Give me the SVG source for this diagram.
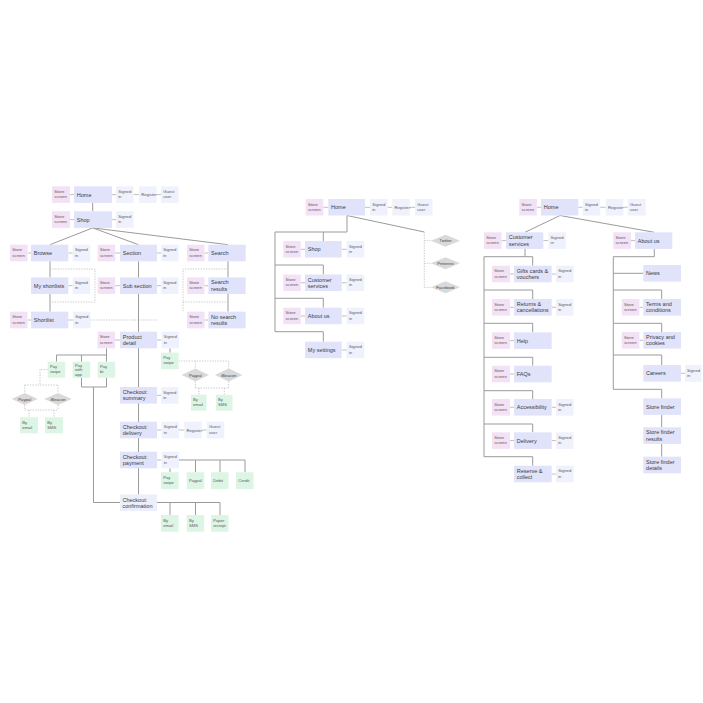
<svg xmlns="http://www.w3.org/2000/svg" width="703" height="703" viewBox="0 0 703 703">
<style>
text{font-family:"Liberation Sans",Arial,sans-serif}
.mn{fill:#e1e3fa}
.ss{fill:#f3e1f6}
.si{fill:#eff1fc}
.gr{fill:#dcf5e5}
.cf{fill:#eceefc}
.dm{fill:#d9d9d9}
.t{font-size:5.5px;fill:#3a3a3a}
.m{font-size:4.2px;fill:#5a5a5a}
.dt{font-size:4.2px;fill:#444;text-anchor:middle}
.c{stroke:#9b9b9b;stroke-width:1;fill:none}
.k{stroke:#b0b0b0;stroke-width:0.8;fill:none}
.d{stroke:#bdbdbd;stroke-width:0.8;fill:none;stroke-dasharray:1.3 1.3}
</style>
<rect width="703" height="703" fill="#fff"/>
<g id="connectors">
<!-- left -->
<path class="k" d="M70 194.6H74M112 194.6H116M133.5 194.6H139M156.5 194.6H161"/>
<path class="c" d="M92.7 202.9V211.3"/>
<path class="k" d="M70 219.6H74M112 219.6H116"/>
<path class="c" d="M92.7 227.9L50 244.7M92.7 227.9L138.5 244.7M92.7 227.9L228 244.7"/>
<path class="k" d="M27.5 253H31M68.3 253H72.7M115.2 253H120M157 253H161M204.5 253H208.3"/>
<path class="c" d="M50 261.3V277.4M50 294V311.7M228 261.3V277.4M228 294V311.7M138.5 261.3V494.5"/>
<path class="k" d="M68.3 285.7H72.7M115.2 285.7H120M157 285.7H161M204.5 285.7H208.3"/>
<path class="k" d="M27.5 320H31M68.3 320H73M204.5 320H208.3"/>
<path class="d" d="M50 269H95V302H50"/>
<path class="d" d="M228 269H183V311M183 302H228"/>
<path class="d" d="M90.5 320H158"/>
<path class="k" d="M115 340H120M157 340H161.5"/>
<path class="c" d="M170 348.3V352.7"/>
<path class="c" d="M106.5 348.3V361.7M56.5 355H106.5M56.5 355V361.7M81.5 355V361.7"/>
<path class="c" d="M81.5 377.7V387H106.5V377.7M93.5 387V502.5H120"/>
<path class="d" d="M178.5 361H228.7V368.5M195.3 361V368.5"/>
<path class="d" d="M195.3 381.5V388M228.7 381.5V388M195.3 388H228.7M199 388V394.7M224.3 388V394.7"/>
<path class="d" d="M47.7 369.5H40V385M24.7 385H58M24.7 385V393M58 385V393"/>
<path class="d" d="M24.7 405V410M58 405V410M24.7 410H58M29 410V417.3M54 410V417.3"/>
<path class="k" d="M157 395.3H161"/>
<path class="k" d="M157 430H161.5M179 430H184.3M201.8 430H206.7"/>
<path class="k" d="M157 460H161.5"/>
<path class="c" d="M170 468.3V472.3M179 460H245M195.5 460V472.3M220 460V472.3M245 460V472.3"/>
<path class="c" d="M157 502.5H220M170 502.5V515M195.5 502.5V515M220 502.5V515"/>
<!-- middle -->
<path class="k" d="M323.3 207.3H328.3M365 207.3H370M387.5 207.3H392.3M409.8 207.3H415"/>
<path class="c" d="M347 215.5V232H275V331.7M347 215.5L424.3 232"/>
<path class="c" d="M323.3 232V241M275 265H323.3V274.5M275 298.3H323.3V307.7M275 331.7H323.3V341.7"/>
<path class="k" d="M300.8 249.3H305M341.7 249.3H346.7M300.8 282.8H305M341.7 282.8H346.7M300.8 316H305M341.7 316H346.7M341.7 350H346.7"/>
<path class="d" d="M424.3 232V287.3M424.3 240.7H431M424.3 263.3H431M424.3 287.3H431"/>
<!-- right -->
<path class="k" d="M536.8 207.3H541M578.3 207.3H582.7M600.2 207.3H605.7M623.2 207.3H627.7"/>
<path class="c" d="M560 215.5L525 232.3M560 215.5L654.3 232.3"/>
<path class="k" d="M501.5 240.6H506M543.3 240.6H548.3M631 240.6H635"/>
<path class="c" d="M525 248.9V256.7M484 256.7H532.7V265.7M484 256.7V456.7"/>
<path class="c" d="M484 290H532.7V299M484 323.3H532.7V332.3M484 357.3H532.7V365.7M484 390.7H532.7V399M484 424H532.7V432.3M484 456.7H532.7V465.7"/>
<path class="k" d="M510 274H514M551.7 274H556M510 307.3H514M551.7 307.3H556M510 340.6H514M510 374H514M510 407.3H514M551.7 407.3H556M510 440.6H514M551.7 440.6H556M551.7 474H556"/>
<path class="c" d="M654.3 248.9V256.7H613.3V389.3M613.3 273.3H643.3M613.3 290H661.7V299M613.3 323.3H661.7V332M613.3 355H661.7V365M613.3 389.3H661.7V398.3M661.7 415V427.3M661.7 444V456.7"/>
<path class="k" d="M639.4 307.3H643.3M639.4 340.3H643.3M681 373.3H685"/>
</g>

<!-- LEFT: Home / Shop -->
<g id="l-home-ss"><rect class="ss" x="52" y="186.3" width="18" height="16.6"/><text class="m" x="54.3" y="192.9">Store<tspan x="54.3" dy="5.2">screen</tspan></text></g>
<g id="l-home"><rect class="mn" x="74" y="186.3" width="38" height="16.6"/><text class="t" x="76.8" y="196.6">Home</text></g>
<g id="l-home-si"><rect class="si" x="116" y="186.3" width="17.5" height="16.6"/><text class="m" x="118.2" y="192.9">Signed<tspan x="118.2" dy="5.2">in</tspan></text></g>
<g id="l-home-reg"><rect class="si" x="139" y="186.3" width="17.5" height="16.6"/><text class="m" x="141.2" y="196.1">Register</text></g>
<g id="l-home-gu"><rect class="si" x="161" y="186.3" width="17.5" height="16.6"/><text class="m" x="163.2" y="192.9">Guest<tspan x="163.2" dy="5.2">user</tspan></text></g>
<g id="l-shop-ss"><rect class="ss" x="52" y="211.3" width="18" height="16.6"/><text class="m" x="54.3" y="217.9">Store<tspan x="54.3" dy="5.2">screen</tspan></text></g>
<g id="l-shop"><rect class="mn" x="74" y="211.3" width="38" height="16.6"/><text class="t" x="76.8" y="221.6">Shop</text></g>
<g id="l-shop-si"><rect class="si" x="116" y="211.3" width="17.5" height="16.6"/><text class="m" x="118.2" y="217.9">Signed<tspan x="118.2" dy="5.2">in</tspan></text></g>

<!-- LEFT: row Browse / Section / Search -->
<g id="l-browse-ss"><rect class="ss" x="10" y="244.7" width="17.5" height="16.6"/><text class="m" x="12.2" y="251.3">Store<tspan x="12.2" dy="5.2">screen</tspan></text></g>
<g id="l-browse"><rect class="mn" x="31" y="244.7" width="37.3" height="16.6"/><text class="t" x="33.8" y="255">Browse</text></g>
<g id="l-browse-si"><rect class="si" x="72.7" y="244.7" width="17.5" height="16.6"/><text class="m" x="74.9" y="251.3">Signed<tspan x="74.9" dy="5.2">in</tspan></text></g>
<g id="l-section-ss"><rect class="ss" x="97.7" y="244.7" width="17.5" height="16.6"/><text class="m" x="99.9" y="251.3">Store<tspan x="99.9" dy="5.2">screen</tspan></text></g>
<g id="l-section"><rect class="mn" x="120" y="244.7" width="37" height="16.6"/><text class="t" x="122.8" y="255">Section</text></g>
<g id="l-section-si"><rect class="si" x="161" y="244.7" width="17.5" height="16.6"/><text class="m" x="163.2" y="251.3">Signed<tspan x="163.2" dy="5.2">in</tspan></text></g>
<g id="l-search-ss"><rect class="ss" x="187" y="244.7" width="17.5" height="16.6"/><text class="m" x="189.2" y="251.3">Store<tspan x="189.2" dy="5.2">screen</tspan></text></g>
<g id="l-search"><rect class="mn" x="208.3" y="244.7" width="37.4" height="16.6"/><text class="t" x="211.1" y="255">Search</text></g>

<!-- LEFT: row 2 -->
<g id="l-shortlists"><rect class="mn" x="31" y="277.4" width="37.3" height="16.6"/><text class="t" x="33.8" y="287.7">My shortlists</text></g>
<g id="l-shortlists-si"><rect class="si" x="72.7" y="277.4" width="17.5" height="16.6"/><text class="m" x="74.9" y="284">Signed<tspan x="74.9" dy="5.2">in</tspan></text></g>
<g id="l-sub-ss"><rect class="ss" x="97.7" y="277.4" width="17.5" height="16.6"/><text class="m" x="99.9" y="284">Store<tspan x="99.9" dy="5.2">screen</tspan></text></g>
<g id="l-sub"><rect class="mn" x="120" y="277.4" width="37" height="16.6"/><text class="t" x="122.8" y="287.7">Sub section</text></g>
<g id="l-sub-si"><rect class="si" x="161" y="277.4" width="17.5" height="16.6"/><text class="m" x="163.2" y="284">Signed<tspan x="163.2" dy="5.2">in</tspan></text></g>
<g id="l-results-ss"><rect class="ss" x="187" y="277.4" width="17.5" height="16.6"/><text class="m" x="189.2" y="284">Store<tspan x="189.2" dy="5.2">screen</tspan></text></g>
<g id="l-results"><rect class="mn" x="208.3" y="277.4" width="37.4" height="16.6"/><text class="t" x="211.1" y="284.4">Search<tspan x="211.1" dy="6.3">results</tspan></text></g>

<!-- LEFT: row 3 -->
<g id="l-shortlist-ss"><rect class="ss" x="10" y="311.7" width="17.5" height="16.6"/><text class="m" x="12.2" y="318.3">Store<tspan x="12.2" dy="5.2">screen</tspan></text></g>
<g id="l-shortlist"><rect class="mn" x="31" y="311.7" width="37.3" height="16.6"/><text class="t" x="33.8" y="322">Shortlist</text></g>
<g id="l-shortlist-si"><rect class="si" x="73" y="311.7" width="17.5" height="16.6"/><text class="m" x="75.2" y="318.3">Signed<tspan x="75.2" dy="5.2">in</tspan></text></g>
<g id="l-nores-ss"><rect class="ss" x="187" y="311.7" width="17.5" height="16.6"/><text class="m" x="189.2" y="318.3">Store<tspan x="189.2" dy="5.2">screen</tspan></text></g>
<g id="l-nores"><rect class="mn" x="208.3" y="311.7" width="37.4" height="16.6"/><text class="t" x="211.1" y="318.7">No search<tspan x="211.1" dy="6.3">results</tspan></text></g>

<!-- LEFT: Product detail -->
<g id="l-product-ss"><rect class="ss" x="97.5" y="331.7" width="17.5" height="16.6"/><text class="m" x="99.7" y="338.3">Store<tspan x="99.7" dy="5.2">screen</tspan></text></g>
<g id="l-product"><rect class="mn" x="120" y="331.7" width="37" height="16.6"/><text class="t" x="122.8" y="338.7">Product<tspan x="122.8" dy="6.3">detail</tspan></text></g>
<g id="l-product-si"><rect class="si" x="161.5" y="331.7" width="17.5" height="16.6"/><text class="m" x="163.7" y="338.3">Signed<tspan x="163.7" dy="5.2">in</tspan></text></g>
<g id="l-pd-swipe"><rect class="gr" x="161" y="352.7" width="17.5" height="16.5"/><text class="m" x="163.2" y="359.1">Pay<tspan x="163.2" dy="5.2">swipe</tspan></text></g>
<g id="l-pd-paypal"><polygon class="dm" points="181.6,375 195.3,368.5 209,375 195.3,381.5"/><text class="dt" x="195.3" y="376.5">Paypal</text></g>
<g id="l-pd-ibeacon"><polygon class="dm" points="215,375 228.7,368.5 242.4,375 228.7,381.5"/><text class="dt" x="228.7" y="376.5">iBeacon</text></g>
<g id="l-pd-email"><rect class="gr" x="191" y="394.7" width="15.5" height="16"/><text class="m" x="193" y="401">By<tspan x="193" dy="5.2">email</tspan></text></g>
<g id="l-pd-sms"><rect class="gr" x="216" y="394.7" width="16.5" height="16"/><text class="m" x="218" y="401">By<tspan x="218" dy="5.2">SMS</tspan></text></g>

<!-- LEFT: pay options under product -->
<g id="l-swipe"><rect class="gr" x="47.7" y="361.7" width="17.5" height="16"/><text class="m" x="49.9" y="367.9">Pay<tspan x="49.9" dy="5.2">swipe</tspan></text></g>
<g id="l-app"><rect class="gr" x="72.7" y="361.7" width="17.5" height="16"/><text class="m" x="74.9" y="366.5">Pay<tspan x="74.9" dy="4.8">with</tspan><tspan x="74.9" dy="4.8">app</tspan></text></g>
<g id="l-bt"><rect class="gr" x="97.7" y="361.7" width="17.5" height="16"/><text class="m" x="99.9" y="367.9">Pay<tspan x="99.9" dy="5.2">bt</tspan></text></g>
<g id="l-paypal"><polygon class="dm" points="11.7,399 24.7,393 37.7,399 24.7,405"/><text class="dt" x="24.7" y="400.5">Paypal</text></g>
<g id="l-ibeacon"><polygon class="dm" points="44.3,399 58,393 71.7,399 58,405"/><text class="dt" x="58" y="400.5">iBeacon</text></g>
<g id="l-email"><rect class="gr" x="20" y="417.3" width="18" height="16"/><text class="m" x="22.2" y="423.6">By<tspan x="22.2" dy="5.2">email</tspan></text></g>
<g id="l-sms"><rect class="gr" x="45" y="417.3" width="18" height="16"/><text class="m" x="47.2" y="423.6">By<tspan x="47.2" dy="5.2">SMS</tspan></text></g>

<!-- LEFT: checkout -->
<g id="l-summary"><rect class="mn" x="120" y="387" width="37" height="16.6"/><text class="t" x="122.8" y="394">Checkout:<tspan x="122.8" dy="6.3">summary</tspan></text></g>
<g id="l-summary-si"><rect class="si" x="161" y="387" width="17.5" height="16.6"/><text class="m" x="163.2" y="393.6">Signed<tspan x="163.2" dy="5.2">in</tspan></text></g>
<g id="l-delivery"><rect class="mn" x="120" y="421.7" width="37" height="16.6"/><text class="t" x="122.8" y="428.7">Checkout:<tspan x="122.8" dy="6.3">delivery</tspan></text></g>
<g id="l-delivery-si"><rect class="si" x="161.5" y="421.7" width="17.5" height="16.6"/><text class="m" x="163.7" y="428.3">Signed<tspan x="163.7" dy="5.2">in</tspan></text></g>
<g id="l-delivery-reg"><rect class="si" x="184.3" y="421.7" width="17.5" height="16.6"/><text class="m" x="186.5" y="431.5">Register</text></g>
<g id="l-delivery-gu"><rect class="si" x="206.7" y="421.7" width="17.5" height="16.6"/><text class="m" x="208.9" y="428.3">Guest<tspan x="208.9" dy="5.2">user</tspan></text></g>
<g id="l-payment"><rect class="mn" x="120" y="451.7" width="37" height="16.6"/><text class="t" x="122.8" y="458.7">Checkout:<tspan x="122.8" dy="6.3">payment</tspan></text></g>
<g id="l-payment-si"><rect class="si" x="161.5" y="451.7" width="17.5" height="16.6"/><text class="m" x="163.7" y="458.3">Signed<tspan x="163.7" dy="5.2">in</tspan></text></g>
<g id="l-opt-swipe"><rect class="gr" x="161" y="472.3" width="17.5" height="16.7"/><text class="m" x="163.2" y="478.9">Pay<tspan x="163.2" dy="5.2">swipe</tspan></text></g>
<g id="l-opt-paypal"><rect class="gr" x="186.7" y="472.3" width="17.5" height="16.7"/><text class="m" x="188.9" y="482.1">Paypal</text></g>
<g id="l-opt-debit"><rect class="gr" x="211" y="472.3" width="17.5" height="16.7"/><text class="m" x="213.2" y="482.1">Debit</text></g>
<g id="l-opt-credit"><rect class="gr" x="236" y="472.3" width="17.5" height="16.7"/><text class="m" x="238.2" y="482.1">Credit</text></g>
<g id="l-confirm"><rect class="cf" x="120" y="494.5" width="37" height="16.5"/><text class="t" x="122.5" y="501.5">Checkout:<tspan x="122.5" dy="6.3">confirmation</tspan></text></g>
<g id="l-out-email"><rect class="gr" x="161" y="515" width="17.5" height="16.7"/><text class="m" x="163.2" y="521.6">By<tspan x="163.2" dy="5.2">email</tspan></text></g>
<g id="l-out-sms"><rect class="gr" x="186.7" y="515" width="17.5" height="16.7"/><text class="m" x="188.9" y="521.6">By<tspan x="188.9" dy="5.2">SMS</tspan></text></g>
<g id="l-out-receipt"><rect class="gr" x="211" y="515" width="17.5" height="16.7"/><text class="m" x="213.2" y="521.6">Paper<tspan x="213.2" dy="5.2">receipt</tspan></text></g>

<!-- MIDDLE -->
<g id="m-home-ss"><rect class="ss" x="305.7" y="199" width="17.6" height="16.5"/><text class="m" x="307.9" y="205.6">Store<tspan x="307.9" dy="5.2">screen</tspan></text></g>
<g id="m-home"><rect class="mn" x="328.3" y="199" width="36.7" height="16.5"/><text class="t" x="331.1" y="209.3">Home</text></g>
<g id="m-home-si"><rect class="si" x="370" y="199" width="17.5" height="16.5"/><text class="m" x="372.2" y="205.6">Signed<tspan x="372.2" dy="5.2">in</tspan></text></g>
<g id="m-home-reg"><rect class="si" x="392.3" y="199" width="17.5" height="16.5"/><text class="m" x="394.5" y="208.8">Register</text></g>
<g id="m-home-gu"><rect class="si" x="415" y="199" width="17.5" height="16.5"/><text class="m" x="417.2" y="205.6">Guest<tspan x="417.2" dy="5.2">user</tspan></text></g>
<g id="m-shop-ss"><rect class="ss" x="283.3" y="241" width="17.5" height="16.5"/><text class="m" x="285.5" y="247.6">Store<tspan x="285.5" dy="5.2">screen</tspan></text></g>
<g id="m-shop"><rect class="mn" x="305" y="241" width="36.7" height="16.5"/><text class="t" x="307.8" y="251.3">Shop</text></g>
<g id="m-shop-si"><rect class="si" x="346.7" y="241" width="17.5" height="16.5"/><text class="m" x="348.9" y="247.6">Signed<tspan x="348.9" dy="5.2">in</tspan></text></g>
<g id="m-cs-ss"><rect class="ss" x="283.3" y="274.5" width="17.5" height="16.5"/><text class="m" x="285.5" y="281.1">Store<tspan x="285.5" dy="5.2">screen</tspan></text></g>
<g id="m-cs"><rect class="mn" x="305" y="274.5" width="36.7" height="16.5"/><text class="t" x="307.8" y="281.5">Customer<tspan x="307.8" dy="6.3">services</tspan></text></g>
<g id="m-cs-si"><rect class="si" x="346.7" y="274.5" width="17.5" height="16.5"/><text class="m" x="348.9" y="281.1">Signed<tspan x="348.9" dy="5.2">in</tspan></text></g>
<g id="m-about-ss"><rect class="ss" x="283.3" y="307.7" width="17.5" height="16.5"/><text class="m" x="285.5" y="314.3">Store<tspan x="285.5" dy="5.2">screen</tspan></text></g>
<g id="m-about"><rect class="mn" x="305" y="307.7" width="36.7" height="16.5"/><text class="t" x="307.8" y="318">About us</text></g>
<g id="m-about-si"><rect class="si" x="346.7" y="307.7" width="17.5" height="16.5"/><text class="m" x="348.9" y="314.3">Signed<tspan x="348.9" dy="5.2">in</tspan></text></g>
<g id="m-settings"><rect class="mn" x="305" y="341.7" width="36.7" height="16.5"/><text class="t" x="307.8" y="352">My settings</text></g>
<g id="m-settings-si"><rect class="si" x="346.7" y="341.7" width="17.5" height="16.5"/><text class="m" x="348.9" y="348.3">Signed<tspan x="348.9" dy="5.2">in</tspan></text></g>
<g id="m-twitter"><polygon class="dm" points="431,240.7 445.5,234.7 460,240.7 445.5,246.7"/><text class="dt" x="445.5" y="242.2">Twitter</text></g>
<g id="m-pinterest"><polygon class="dm" points="431,263.3 445.5,257.3 460,263.3 445.5,269.3"/><text class="dt" x="445.5" y="264.8">Pinterest</text></g>
<g id="m-facebook"><polygon class="dm" points="431,287.3 445.5,281.3 460,287.3 445.5,293.3"/><text class="dt" x="445.5" y="288.8">Facebook</text></g>

<!-- RIGHT -->
<g id="r-home-ss"><rect class="ss" x="519.3" y="199" width="17.5" height="16.5"/><text class="m" x="521.5" y="205.6">Store<tspan x="521.5" dy="5.2">screen</tspan></text></g>
<g id="r-home"><rect class="mn" x="541" y="199" width="37.3" height="16.5"/><text class="t" x="543.8" y="209.3">Home</text></g>
<g id="r-home-si"><rect class="si" x="582.7" y="199" width="17.5" height="16.5"/><text class="m" x="584.9" y="205.6">Signed<tspan x="584.9" dy="5.2">in</tspan></text></g>
<g id="r-home-reg"><rect class="si" x="605.7" y="199" width="17.5" height="16.5"/><text class="m" x="607.9" y="208.8">Register</text></g>
<g id="r-home-gu"><rect class="si" x="627.7" y="199" width="18" height="16.5"/><text class="m" x="629.9" y="205.6">Guest<tspan x="629.9" dy="5.2">user</tspan></text></g>
<g id="r-cs-ss"><rect class="ss" x="484" y="232.3" width="17.5" height="16.6"/><text class="m" x="486.2" y="238.9">Store<tspan x="486.2" dy="5.2">screen</tspan></text></g>
<g id="r-cs"><rect class="mn" x="506" y="232.3" width="37.3" height="16.6"/><text class="t" x="508.8" y="239.3">Customer<tspan x="508.8" dy="6.3">services</tspan></text></g>
<g id="r-cs-si"><rect class="si" x="548.3" y="232.3" width="17.5" height="16.6"/><text class="m" x="550.5" y="238.9">Signed<tspan x="550.5" dy="5.2">in</tspan></text></g>
<g id="r-about-ss"><rect class="ss" x="613.3" y="232.3" width="17.7" height="16.6"/><text class="m" x="615.5" y="238.9">Store<tspan x="615.5" dy="5.2">screen</tspan></text></g>
<g id="r-about"><rect class="mn" x="635" y="232.3" width="37.3" height="16.6"/><text class="t" x="637.8" y="242.6">About us</text></g>

<g id="r-gifts-ss"><rect class="ss" x="492" y="265.7" width="18" height="16.6"/><text class="m" x="494.2" y="272.3">Store<tspan x="494.2" dy="5.2">screen</tspan></text></g>
<g id="r-gifts"><rect class="mn" x="514" y="265.7" width="37.7" height="16.6"/><text class="t" x="516.8" y="272.7">Gifts cards &amp;<tspan x="516.8" dy="6.3">vouchers</tspan></text></g>
<g id="r-gifts-si"><rect class="si" x="556" y="265.7" width="17.5" height="16.6"/><text class="m" x="558.2" y="272.3">Signed<tspan x="558.2" dy="5.2">in</tspan></text></g>
<g id="r-returns-ss"><rect class="ss" x="492" y="299" width="18" height="16.6"/><text class="m" x="494.2" y="305.6">Store<tspan x="494.2" dy="5.2">screen</tspan></text></g>
<g id="r-returns"><rect class="mn" x="514" y="299" width="37.7" height="16.6"/><text class="t" x="516.8" y="306">Returns &amp;<tspan x="516.8" dy="6.3">cancellations</tspan></text></g>
<g id="r-returns-si"><rect class="si" x="556" y="299" width="17.5" height="16.6"/><text class="m" x="558.2" y="305.6">Signed<tspan x="558.2" dy="5.2">in</tspan></text></g>
<g id="r-help-ss"><rect class="ss" x="492" y="332.3" width="18" height="16.6"/><text class="m" x="494.2" y="338.9">Store<tspan x="494.2" dy="5.2">screen</tspan></text></g>
<g id="r-help"><rect class="mn" x="514" y="332.3" width="37.7" height="16.6"/><text class="t" x="516.8" y="342.6">Help</text></g>
<g id="r-faqs-ss"><rect class="ss" x="492" y="365.7" width="18" height="16.6"/><text class="m" x="494.2" y="372.3">Store<tspan x="494.2" dy="5.2">screen</tspan></text></g>
<g id="r-faqs"><rect class="mn" x="514" y="365.7" width="37.7" height="16.6"/><text class="t" x="516.8" y="376">FAQs</text></g>
<g id="r-access-ss"><rect class="ss" x="492" y="399" width="18" height="16.6"/><text class="m" x="494.2" y="405.6">Store<tspan x="494.2" dy="5.2">screen</tspan></text></g>
<g id="r-access"><rect class="mn" x="514" y="399" width="37.7" height="16.6"/><text class="t" x="516.8" y="409.3">Accessibility</text></g>
<g id="r-access-si"><rect class="si" x="556" y="399" width="17.5" height="16.6"/><text class="m" x="558.2" y="405.6">Signed<tspan x="558.2" dy="5.2">in</tspan></text></g>
<g id="r-delivery-ss"><rect class="ss" x="492" y="432.3" width="18" height="16.6"/><text class="m" x="494.2" y="438.9">Store<tspan x="494.2" dy="5.2">screen</tspan></text></g>
<g id="r-delivery"><rect class="mn" x="514" y="432.3" width="37.7" height="16.6"/><text class="t" x="516.8" y="442.6">Delivery</text></g>
<g id="r-delivery-si"><rect class="si" x="556" y="432.3" width="17.5" height="16.6"/><text class="m" x="558.2" y="438.9">Signed<tspan x="558.2" dy="5.2">in</tspan></text></g>
<g id="r-reserve"><rect class="mn" x="514" y="465.7" width="37.7" height="16.6"/><text class="t" x="516.8" y="472.7">Reserve &amp;<tspan x="516.8" dy="6.3">collect</tspan></text></g>
<g id="r-reserve-si"><rect class="si" x="556" y="465.7" width="17.5" height="16.6"/><text class="m" x="558.2" y="472.3">Signed<tspan x="558.2" dy="5.2">in</tspan></text></g>

<g id="r-news"><rect class="mn" x="643.3" y="265" width="37.7" height="16.6"/><text class="t" x="646.1" y="275.3">News</text></g>
<g id="r-terms-ss"><rect class="ss" x="621.7" y="299" width="17.7" height="16.6"/><text class="m" x="623.9" y="305.6">Store<tspan x="623.9" dy="5.2">screen</tspan></text></g>
<g id="r-terms"><rect class="mn" x="643.3" y="299" width="37.7" height="16.6"/><text class="t" x="646.1" y="306">Terms and<tspan x="646.1" dy="6.3">conditions</tspan></text></g>
<g id="r-privacy-ss"><rect class="ss" x="621.7" y="332" width="17.7" height="16.6"/><text class="m" x="623.9" y="338.6">Store<tspan x="623.9" dy="5.2">screen</tspan></text></g>
<g id="r-privacy"><rect class="mn" x="643.3" y="332" width="37.7" height="16.6"/><text class="t" x="646.1" y="339">Privacy and<tspan x="646.1" dy="6.3">cookies</tspan></text></g>
<g id="r-careers"><rect class="mn" x="643.3" y="365" width="37.7" height="16.6"/><text class="t" x="646.1" y="375.3">Careers</text></g>
<g id="r-careers-si"><rect class="si" x="685" y="365" width="16.5" height="16.6"/><text class="m" x="687" y="371.6">Signed<tspan x="687" dy="5.2">in</tspan></text></g>
<g id="r-finder"><rect class="mn" x="643.3" y="398.3" width="37.7" height="16.6"/><text class="t" x="646.1" y="408.6">Store finder</text></g>
<g id="r-finder-results"><rect class="mn" x="643.3" y="427.3" width="37.7" height="16.6"/><text class="t" x="646.1" y="434.3">Store finder<tspan x="646.1" dy="6.3">results</tspan></text></g>
<g id="r-finder-details"><rect class="mn" x="643.3" y="456.7" width="37.7" height="16.6"/><text class="t" x="646.1" y="463.7">Store finder<tspan x="646.1" dy="6.3">details</tspan></text></g>
</svg>
